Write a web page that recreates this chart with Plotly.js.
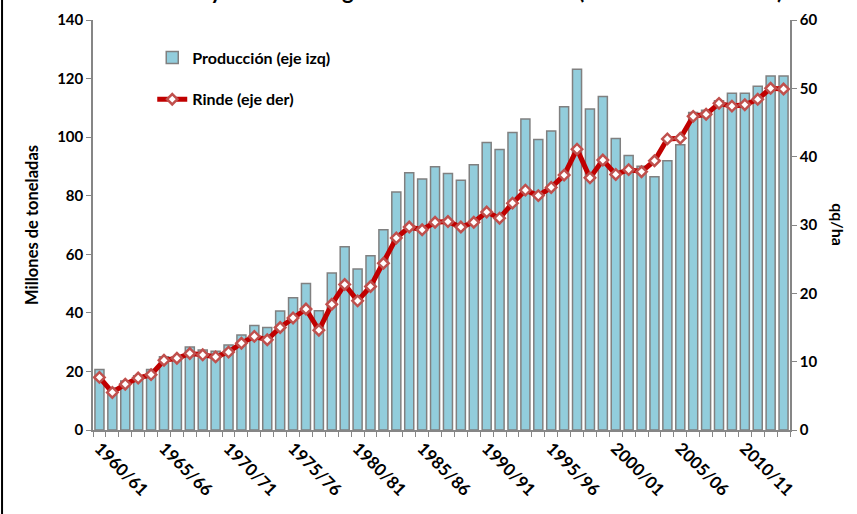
<!DOCTYPE html>
<html>
<head>
<meta charset="utf-8">
<script src="https://cdn.plot.ly/plotly-3.0.1.min.js"></script>
<style>html,body{margin:0;padding:0;background:#fff;}#chart{width:857px;height:514px;}</style>
</head>
<body>
<div id="chart"></div>
<script>
const categories = ["1960/61","1961/62","1962/63","1963/64","1964/65","1965/66","1966/67","1967/68","1968/69","1969/70",
"1970/71","1971/72","1972/73","1973/74","1974/75","1975/76","1976/77","1977/78","1978/79","1979/80",
"1980/81","1981/82","1982/83","1983/84","1984/85","1985/86","1986/87","1987/88","1988/89","1989/90",
"1990/91","1991/92","1992/93","1993/94","1994/95","1995/96","1996/97","1997/98","1998/99","1999/00",
"2000/01","2001/02","2002/03","2003/04","2004/05","2005/06","2006/07","2007/08","2008/09","2009/10",
"2010/11","2011/12","2012/13","2013/14"];

const produccion = [20.7,14.3,16.7,18.5,20.7,25.0,25.0,28.3,27.3,26.9,
29.0,32.4,35.7,35.0,40.6,45.2,50.0,40.7,53.6,62.6,
55.0,59.5,68.4,81.3,87.8,85.7,89.9,87.6,85.3,90.6,
98.2,95.8,101.6,106.2,99.2,102.1,110.4,123.2,109.6,113.9,
99.5,93.7,90.1,86.5,91.9,97.4,108.4,109.2,112.4,115.0,
115.0,117.4,120.9,120.9];

const rinde = [7.7,5.5,6.7,7.6,8.1,10.2,10.5,11.2,11.0,10.7,
11.4,12.7,13.7,13.2,15.0,16.4,17.7,14.6,18.4,21.3,
18.9,21.0,24.4,28.1,29.7,29.3,30.4,30.5,29.7,30.4,
31.9,31.0,33.2,35.1,34.3,35.5,37.3,41.1,36.9,39.5,
37.4,38.1,37.8,39.4,42.6,42.7,45.9,46.2,47.8,47.4,
47.6,48.4,50.0,49.9];

const labeledTicks = ["1960/61","1965/66","1970/71","1975/76","1980/81","1985/86","1990/91","1995/96","2000/01","2005/06","2010/11"];

const tickText = categories.map(c => labeledTicks.includes(c) ? c : "");

const FONT = "Lato, 'Open Sans', sans-serif";

const traces = [
  {
    type: "bar",
    name: "Producción (eje izq)",
    legendgroup: "a",
    x: categories,
    y: produccion,
    marker: {color: "#92CDDC", line: {color: "#808080", width: 1.5}},
    yaxis: "y"
  },
  {
    type: "scatter",
    mode: "lines+markers",
    name: "Rinde (eje der)",
    legendgroup: "b",
    x: categories,
    y: rinde,
    yaxis: "y2",
    line: {color: "#C00000", width: 5},
    marker: {symbol: "diamond", size: 8, color: "#FFFFFF", line: {color: "#C0504D", width: 2.5}}
  }
];

const layout = {
  width: 857,
  height: 514,
  margin: {l: 93, r: 67, t: 20, b: 84},
  paper_bgcolor: "#FFFFFF",
  plot_bgcolor: "#FFFFFF",
  font: {family: FONT, color: "#000000", size: 14},
  showlegend: true,
  bargap: 0.3,
  legend: {
    x: 0.085, y: 0.95, xanchor: "left", yanchor: "top",
    bgcolor: "rgba(0,0,0,0)",
    font: {family: FONT, size: 16, weight: "bold"},
    tracegroupgap: 18
  },
  xaxis: {
    type: "category",
    range: [-0.5, 53.5],
    tickmode: "array",
    tickvals: categories,
    ticktext: tickText,
    tickson: "boundaries",
    ticks: "outside",
    ticklen: 5,
    tickcolor: "#868686",
    tickangle: 45,
    tickfont: {family: FONT, size: 17, weight: "bold"},
    showline: true,
    linecolor: "#868686",
    linewidth: 1.5,
    showgrid: false,
    zeroline: false
  },
  yaxis: {
    range: [0, 140],
    dtick: 20,
    ticks: "outside",
    ticklen: 5,
    tickcolor: "#868686",
    showline: true,
    linecolor: "#868686",
    linewidth: 1.5,
    showgrid: false,
    zeroline: false,
    tickfont: {family: FONT, size: 15, weight: "bold"},
    title: {text: "Millones de toneladas", font: {family: FONT, size: 16.5, weight: "bold"}, standoff: 14}
  },
  yaxis2: {
    range: [0, 60],
    dtick: 10,
    overlaying: "y",
    side: "right",
    ticks: "outside",
    ticklen: 5,
    tickcolor: "#868686",
    showline: true,
    linecolor: "#868686",
    linewidth: 1.5,
    showgrid: false,
    zeroline: false,
    tickfont: {family: FONT, size: 15, weight: "bold"}
  },
  annotations: [
    {
      text: "<b>qq/ha</b>",
      xref: "paper", yref: "paper",
      x: 1.07, y: 0.5,
      xanchor: "center", yanchor: "middle",
      textangle: 90,
      showarrow: false,
      font: {family: FONT, size: 16, color: "#000000"}
    },
    {
      text: "<b>Producción y Rinde de Trigo en China continental (1960/61 - 2013/14)</b>",
      xref: "paper", yref: "paper",
      x: 0.0, y: 1.035,
      xanchor: "left", yanchor: "bottom",
      showarrow: false,
      font: {family: FONT, size: 22, color: "#000000"}
    }
  ],
  shapes: [
    {
      type: "line", xref: "paper", yref: "paper",
      x0: -0.1305, x1: -0.1305, y0: -0.3, y1: 1.1,
      line: {color: "#000000", width: 2}
    }
  ]
};

Plotly.newPlot("chart", traces, layout, {displayModeBar: false, responsive: false});
</script>
</body>
</html>
